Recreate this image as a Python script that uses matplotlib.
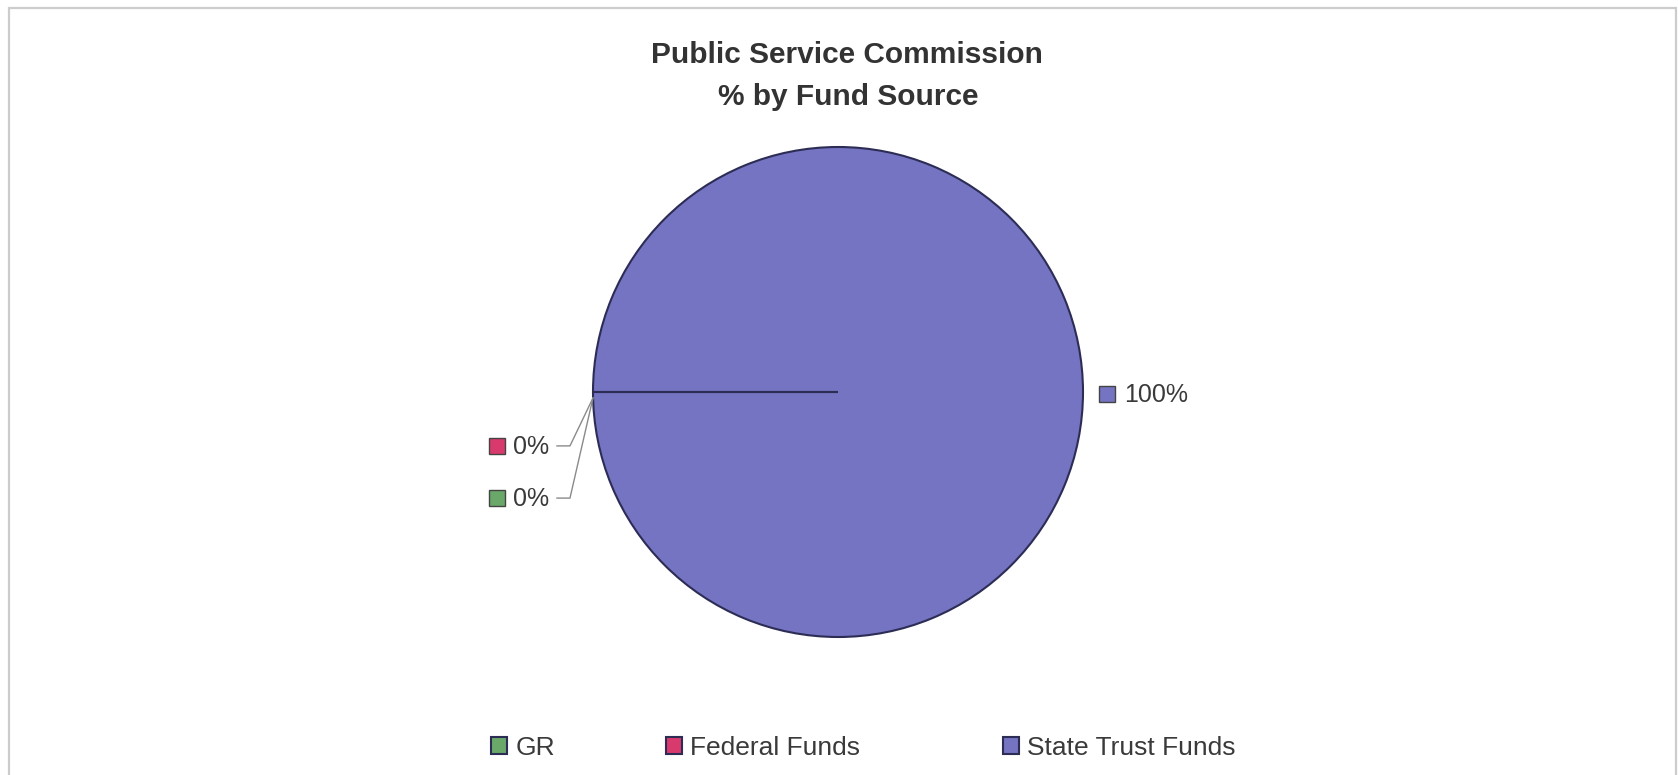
import matplotlib
matplotlib.use("Agg")
import matplotlib.pyplot as plt
from matplotlib.patches import Rectangle
import numpy as np

# ---- data ----
categories = ["GR", "Federal Funds", "State Trust Funds"]
values = [0, 0, 100]
title_lines = ["Public Service Commission", "% by Fund Source"]

# ---- styles / layout ----
colors = ["#6aa86a", "#d93a6e", "#7474c2"]
edge_col = "#2c2c55"
text_col = "#3a3a3a"
legend_x_px = [491, 666, 1003]   # left edge of each legend entry (pixels)
plt.rcParams['font.family'] = ['Liberation Sans', 'DejaVu Sans']

W, H = 1678, 775
fig = plt.figure(figsize=(W / 100, H / 100), dpi=100)
fig.patch.set_facecolor("white")

# chart frame
fig.patches.append(Rectangle((9 / W, -0.05), (1676 - 9) / W, 1.05 - 8 / H,
                             transform=fig.transFigure, fill=False,
                             edgecolor="#cccccc", linewidth=1.6))

# title
fig.text(847 / W, 1 - 63 / H, title_lines[0], ha="center", va="baseline",
         fontsize=21.5, fontweight="bold", color="#333333")
fig.text(848 / W, 1 - 105 / H, title_lines[1], ha="center", va="baseline",
         fontsize=21.5, fontweight="bold", color="#333333")

# pie axes
cx, cy, r = 838, 392, 245
ax = fig.add_axes([(cx - r) / W, (H - cy - r) / H, 2 * r / W, 2 * r / H])
wedges, _ = ax.pie(values, colors=colors, startangle=180, counterclock=False,
                   radius=1.0,
                   wedgeprops=dict(edgecolor=edge_col, linewidth=1.5))
# zero-size slices show as a radial line: keep them above the full slice
for w, v in zip(wedges, values):
    if v == 0:
        w.set_zorder(3)
ax.set_xlim(-1, 1)
ax.set_ylim(-1, 1)
ax.set_aspect("equal")
ax.axis("off")

total = float(sum(values))
px = 1.0 / r  # one pixel in data units

# label layout: vertical offsets (data units) for stacked zero-slice labels
stack_dy = {"GR": -0.433, "Federal Funds": -0.220}

for w, cat, v, col in zip(wedges, categories, values, colors):
    lab = f"{v / total * 100:.0f}%"
    mid = np.deg2rad((w.theta1 + w.theta2) / 2.0)
    ex, ey = np.cos(mid), np.sin(mid)
    if ex >= 0:
        sqx = 1.0 + 16 * px + 8 * px
        sqy = ey - 2 * px
        ax.plot([sqx], [sqy], marker="s", markersize=11, mfc=col,
                mec="#444444", mew=1.0, clip_on=False, zorder=5)
        ax.text(sqx + 17 * px, sqy - 8 * px, lab, ha="left", va="baseline",
                fontsize=18, color=text_col, clip_on=False)
    else:
        ly = ey + stack_dy[cat]
        # leader line
        ax.plot([-1.147, -1.094, ex], [ly, ly, ey - 0.024], color="#8a8a8a",
                lw=1.0, clip_on=False, zorder=4)
        sqx = -1.392
        ax.plot([sqx], [ly], marker="s", markersize=11, mfc=col,
                mec="#444444", mew=1.0, clip_on=False, zorder=5)
        ax.text(sqx + 16 * px, ly - 8 * px, lab, ha="left", va="baseline",
                fontsize=18, color=text_col, clip_on=False)

# legend: one entry per legend box, placed at the reference positions
for w, cat, lx in zip(wedges, categories, legend_x_px):
    fig.legend([w], [cat], loc="center left",
               bbox_to_anchor=(lx / W, 1 - 748 / H), frameon=False,
               fontsize=19, handlelength=0.62, handleheight=0.62,
               handletextpad=0.3, borderpad=0.0, borderaxespad=0.0,
               labelcolor=text_col)

fig.savefig("out.png", dpi=100, facecolor="white")
